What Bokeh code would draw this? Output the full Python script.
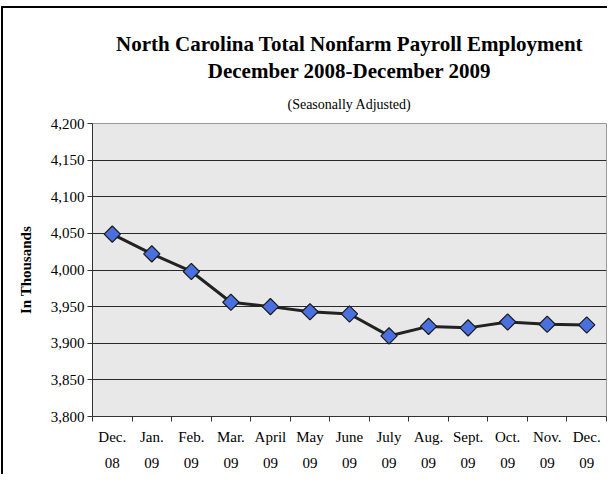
import math
from bokeh.plotting import figure
from bokeh.models import Range1d, FixedTicker, NumeralTickFormatter, Title, ColumnDataSource
from bokeh.embed import file_html
from bokeh.resources import INLINE

# ---- data ----
months = ["Dec.", "Jan.", "Feb.", "Mar.", "April", "May", "June", "July", "Aug.", "Sept.", "Oct.", "Nov.", "Dec."]
years = ["08", "09", "09", "09", "09", "09", "09", "09", "09", "09", "09", "09", "09"]
employment = [4049, 4022, 3998, 3956, 3950, 3943, 3940, 3910, 3923, 3921, 3929, 3926, 3925]
y_ticks = [3800, 3850, 3900, 3950, 4000, 4050, 4100, 4150, 4200]

xs = [i + 0.5 for i in range(len(months))]
src = ColumnDataSource(dict(x=xs, y=employment))

SERIF = "Liberation Serif"

p = figure(width=607, height=474, output_backend="svg", toolbar_location=None,
           x_range=Range1d(0, len(months)), y_range=Range1d(y_ticks[0], y_ticks[-1]),
           min_border_left=92, min_border_right=1, min_border_top=123, min_border_bottom=58)

p.border_fill_color = None
p.background_fill_color = "#e8e8e8"
p.outline_line_color = "#999999"
p.styles = {"box-shadow": "inset 1px 6px 0 0 #ffffff, inset 3px 8px 0 0 #000000"}

# titles (added bottom-up)
p.add_layout(Title(text="(Seasonally Adjusted)", text_font=SERIF, text_font_size="14px",
                   text_font_style="normal", align="center", text_color="#000000", standoff=24), "above")
p.add_layout(Title(text="December 2008-December 2009", text_font=SERIF, text_font_size="21px",
                   text_font_style="bold", align="center", text_color="#000000", standoff=0), "above")
p.add_layout(Title(text="North Carolina Total Nonfarm Payroll Employment", text_font=SERIF,
                   text_font_size="21px", text_font_style="bold", align="center",
                   text_color="#000000", standoff=1), "above")

# x axis
xa = p.xaxis[0]
xa.ticker = FixedTicker(ticks=xs, minor_ticks=list(range(len(months) + 1)))
xa.major_label_overrides = {x: f"{m}\n{yv}" for x, m, yv in zip(xs, months, years)}
xa.major_tick_out = 0
xa.major_tick_in = 0
xa.minor_tick_out = 5
xa.minor_tick_in = 0
xa.minor_tick_line_color = "#333333"
xa.axis_line_color = "#333333"
xa.major_label_text_font = SERIF
xa.major_label_text_font_size = "15px"
xa.major_label_text_color = "#000000"
xa.major_label_text_line_height = 1.65
xa.major_label_standoff = 7

# y axis
ya = p.yaxis[0]
ya.ticker = FixedTicker(ticks=y_ticks)
ya.formatter = NumeralTickFormatter(format="0,0")
ya.major_tick_out = 5
ya.major_tick_in = 0
ya.minor_tick_line_color = None
ya.major_tick_line_color = "#333333"
ya.axis_line_color = "#333333"
ya.major_label_text_font = SERIF
ya.major_label_text_font_size = "15px"
ya.major_label_text_color = "#000000"
ya.major_label_standoff = 3
ya.axis_label = "In Thousands"
ya.axis_label_text_font = SERIF
ya.axis_label_text_font_size = "15px"
ya.axis_label_text_font_style = "bold"
ya.axis_label_text_color = "#000000"
ya.axis_label_standoff = 14

p.xgrid.grid_line_color = None
p.ygrid.ticker = FixedTicker(ticks=y_ticks)
p.ygrid.grid_line_color = "#2a2a2a"
p.ygrid.grid_line_width = 1

p.line("x", "y", source=src, line_color="#222222", line_width=3)
p.scatter("x", "y", source=src, marker="square", angle=math.pi / 4, size=11.5,
          fill_color="#4a6fde", line_color="#1a1a1a", line_width=1.2)

open("out.html", "w").write(file_html(p, INLINE))
